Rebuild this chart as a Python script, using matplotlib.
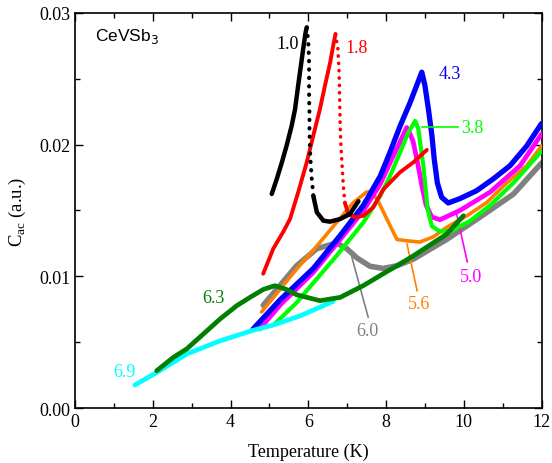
import matplotlib
matplotlib.use("Agg")
import matplotlib.pyplot as plt
from matplotlib.ticker import MultipleLocator, FormatStrFormatter

plt.rcParams["font.family"] = ["Liberation Serif", "DejaVu Serif"]
plt.rcParams["mathtext.fontset"] = "custom"
plt.rcParams["mathtext.rm"] = "Liberation Serif"

# ---- data (T in K, C_ac in a.u.) ----
T_10 = [5.06, 5.19, 5.32, 5.44, 5.57, 5.66, 5.74, 5.81, 5.87, 5.93, 5.96,
        6.00, 6.02, 6.02, 6.02, 6.03, 6.03, 6.04, 6.06, 6.09, 6.13, 6.22,
        6.39, 6.56, 6.82, 7.07, 7.29]
C_10 = [0.01625, 0.0174, 0.01865, 0.0199, 0.0214, 0.0227, 0.0245, 0.0260, 0.0273, 0.0285, 0.0289,
        0.0278, 0.02625, 0.0250, 0.0236, 0.02245, 0.0212, 0.0199, 0.01865, 0.0174, 0.0161, 0.01486,
        0.01422, 0.01415, 0.01435, 0.01473, 0.0157]

T_18 = [4.84, 5.10, 5.36, 5.53, 5.74, 5.96, 6.13, 6.30, 6.43, 6.56, 6.64, 6.70,
        6.76, 6.79, 6.80, 6.81, 6.82, 6.84, 6.87, 6.90, 6.94, 7.03,
        7.20, 7.42, 7.67, 7.93, 8.36, 8.70, 9.05]
C_18 = [0.0102, 0.0121, 0.0134, 0.01435, 0.01638, 0.01865, 0.0207, 0.0227, 0.0245, 0.0262, 0.0275, 0.0284,
        0.0273, 0.0257, 0.0245, 0.02295, 0.0214, 0.0199, 0.0184, 0.0169, 0.0156, 0.01473,
        0.01448, 0.0146, 0.01524, 0.0166, 0.0179, 0.01865, 0.0196]

T_43 = [4.58, 5.27, 6.13, 6.82, 7.42, 7.85, 8.10, 8.36, 8.62, 8.79, 8.92,
        9.00, 9.09, 9.18, 9.24, 9.32, 9.43, 9.60, 9.90, 10.33, 10.76, 11.19, 11.62, 12.0]
C_43 = [0.0060, 0.0082, 0.0106, 0.0131, 0.0154, 0.0176, 0.0194, 0.0214, 0.0232, 0.0245, 0.0255,
        0.0245, 0.0227, 0.0207, 0.0189, 0.0171, 0.0160, 0.01557, 0.0159, 0.0165, 0.0174, 0.0184, 0.0199, 0.0216]

T_50 = [4.75, 5.30, 6.13, 6.82, 7.42, 7.85, 8.10, 8.36, 8.53,
        8.62, 8.70, 8.81, 8.92, 9.03, 9.18, 9.39, 9.90, 10.68, 11.45, 12.0]
C_50 = [0.0060, 0.0079, 0.0103, 0.0128, 0.0150, 0.0170, 0.0186, 0.0202, 0.0213,
        0.0208, 0.0202, 0.01865, 0.0169, 0.0154, 0.0145, 0.0143, 0.0150, 0.0164, 0.0184, 0.0208]

T_38 = [5.14, 5.70, 6.13, 6.73, 7.42, 7.85, 8.10, 8.36, 8.57, 8.75,
        8.83, 8.89, 8.96, 9.02, 9.07, 9.18, 9.39, 9.69, 10.16, 10.68, 11.28, 12.0]
C_38 = [0.0064, 0.0080, 0.0095, 0.01157, 0.0141, 0.0161, 0.0176, 0.0194, 0.0209, 0.0218,
        0.0212, 0.0199, 0.0184, 0.0166, 0.0151, 0.0138, 0.0134, 0.01346, 0.0142, 0.0154, 0.0171, 0.0195]

T_56 = [4.80, 5.27, 5.70, 6.22, 6.73, 7.16, 7.50, 7.63, 7.80, 8.02, 8.28,
        8.53, 8.87, 9.22, 9.56, 10.08, 10.59, 11.11, 11.62, 12.0]
C_56 = [0.0073, 0.0090, 0.01055, 0.0123, 0.0141, 0.0156, 0.0164, 0.01643, 0.0157, 0.01435, 0.0128,
        0.0127, 0.0126, 0.0130, 0.01372, 0.0146, 0.0156, 0.0171, 0.0184, 0.0199]

T_60 = [4.84, 5.27, 5.70, 6.22, 6.73, 6.99, 7.25, 7.59, 7.93, 8.28,
        8.70, 9.56, 10.42, 11.28, 12.0]
C_60 = [0.0078, 0.0093, 0.0108, 0.0121, 0.01253, 0.0121, 0.0114, 0.01076, 0.0106, 0.0108,
        0.0113, 0.0128, 0.0145, 0.01625, 0.0186]

T_63 = [2.10, 2.53, 2.87, 3.30, 3.73, 4.16, 4.50, 4.84, 5.14, 5.44, 5.70,
        6.30, 6.82, 7.42, 7.93, 8.28, 8.70, 9.56, 9.99]
C_63 = [0.00283, 0.00385, 0.00448, 0.00562, 0.00676, 0.00777, 0.0084, 0.0090, 0.00929, 0.0090, 0.0086,
        0.00815, 0.0084, 0.0093, 0.0102, 0.0108, 0.01155, 0.0132, 0.0146]

T_69 = [1.54, 2.10, 2.87, 3.30, 3.73, 4.58, 5.10, 5.79, 6.64]
C_69 = [0.00175, 0.0027, 0.0041, 0.0046, 0.0051, 0.0059, 0.0063, 0.0070, 0.0081]

fig = plt.figure(figsize=(5.52, 4.64), dpi=100)
ax = fig.add_axes([0.136, 0.1185, 0.845, 0.8515])


def curve(T, C, color, lw, z, gap=None):
    # gap = (i0, i1): sparse dotted stretch on the steep drop
    kw = dict(color=color, lw=lw, solid_capstyle="round", solid_joinstyle="round", zorder=z)
    if gap is None:
        ax.plot(T, C, **kw)
        return
    i0, i1 = gap
    ax.plot(T[:i0 + 1], C[:i0 + 1], **kw)
    ax.plot(T[i0:i1 + 1], C[i0:i1 + 1], color=color, lw=lw * 0.9, ls=(0, (0.1, 2.0)),
            dash_capstyle="round", zorder=z)
    ax.plot(T[i1:], C[i1:], **kw)


curve(T_60, C_60, "#808080", 4.0, 2)
curve(T_56, C_56, "#ff8000", 2.6, 3)
curve(T_50, C_50, "#ff00ff", 3.4, 4)
curve(T_43, C_43, "#0000ff", 3.8, 5)
curve(T_38, C_38, "#00ff00", 3.0, 6)
curve(T_69, C_69, "#00ffff", 3.4, 7)
curve(T_63, C_63, "#007f00", 3.4, 8)
curve(T_18, C_18, "#ff0000", 2.8, 9, gap=(11, 20))
curve(T_10, C_10, "#000000", 3.2, 10, gap=(10, 20))

# curve labels
fs = 13
ax.text(5.76, 0.0277, "1.0", color="black", fontsize=fs, ha="right", va="center")
ax.text(6.95, 0.0274, "1.8", color="#ff0000", fontsize=fs, ha="left", va="center")
ax.text(9.35, 0.0254, "4.3", color="#0000ff", fontsize=fs, ha="left", va="center")
ax.plot([8.93, 9.85], [0.0213, 0.0213], color="#00ff00", lw=1.2, zorder=6)
ax.text(9.92, 0.0213, "3.8", color="#00ff00", fontsize=fs, ha="left", va="center")
ax.plot([9.82, 10.09], [0.0147, 0.0111], color="#ff00ff", lw=1.2, zorder=4)
ax.text(10.18, 0.0100, "5.0", color="#ff00ff", fontsize=fs, ha="center", va="center")
ax.plot([8.54, 8.80], [0.01245, 0.0089], color="#ff8000", lw=1.2, zorder=3)
ax.text(8.86, 0.0079, "5.6", color="#ff8000", fontsize=fs, ha="center", va="center")
ax.plot([7.12, 7.54], [0.01146, 0.0069], color="#808080", lw=1.2, zorder=2)
ax.text(7.51, 0.00585, "6.0", color="#808080", fontsize=fs, ha="center", va="center")
ax.text(3.57, 0.0084, "6.3", color="#007f00", fontsize=fs, ha="center", va="center")
ax.text(1.28, 0.0028, "6.9", color="#00ffff", fontsize=fs, ha="center", va="center")
ax.text(0.50, 0.0283, r"CeVSb$_3$", fontsize=12.5, ha="left", va="center",
        family=["Liberation Sans", "DejaVu Sans"], math_fontfamily="dejavusans")

ax.set_xlim(0, 12)
ax.set_ylim(0, 0.03)
ax.xaxis.set_major_locator(MultipleLocator(2))
ax.xaxis.set_minor_locator(MultipleLocator(1))
ax.yaxis.set_major_locator(MultipleLocator(0.01))
ax.yaxis.set_minor_locator(MultipleLocator(0.005))
ax.yaxis.set_major_formatter(FormatStrFormatter("%.2f"))
ax.tick_params(which="both", direction="in", top=True, right=True, labelsize=13)
ax.tick_params(which="major", length=6, width=1)
ax.tick_params(which="minor", length=3.5, width=1)
for s in ax.spines.values():
    s.set_linewidth(1.2)

ax.set_xlabel("Temperature (K)", fontsize=13, labelpad=9)
ax.set_ylabel(r"C$_{\rm ac}$ (a.u.)", fontsize=13.5, labelpad=8)

fig.savefig("out.png", dpi=100)
